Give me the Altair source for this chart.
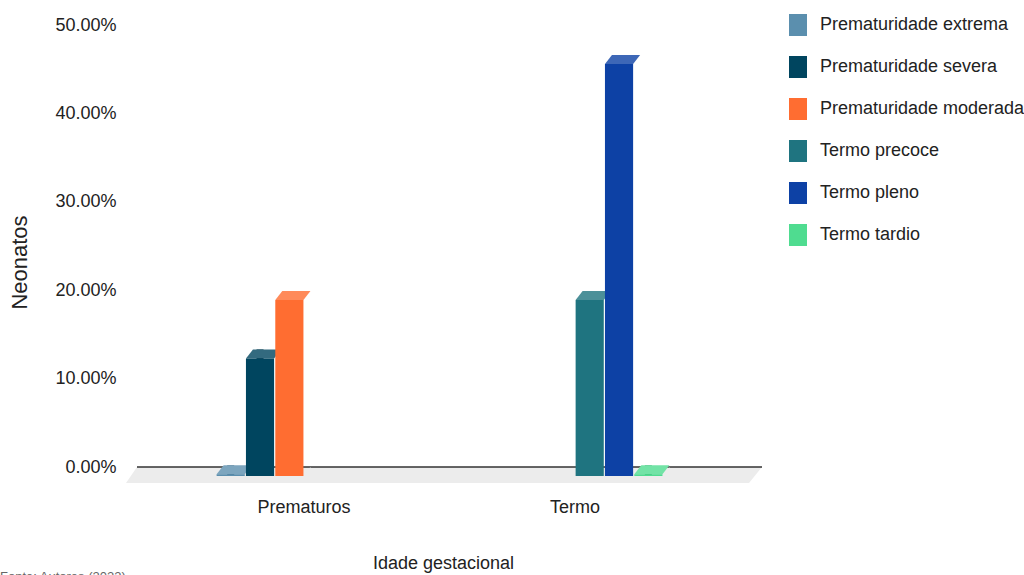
import altair as alt
import pandas as pd

# Share of newborns by gestational-age class
grupos = ["Prematuros", "Prematuros", "Prematuros", "Termo", "Termo", "Termo"]
series = [
    "Prematuridade extrema",
    "Prematuridade severa",
    "Prematuridade moderada",
    "Termo precoce",
    "Termo pleno",
    "Termo tardio",
]
valores = [0.002, 0.133, 0.199, 0.199, 0.466, 0.002]
categorias = ["Prematuros", "Termo"]
ticks_y = [0.0, 0.1, 0.2, 0.3, 0.4, 0.5]

cores = ["#5b8fae", "#00455f", "#ff6d31", "#1f7480", "#0d41a5", "#4fdc90"]

FONT = "Liberation Sans, Arial, sans-serif"
FS = 18
FLOOR = "#ececec"


def mix(hex_color, other, t):
    c = [int(hex_color[i:i + 2], 16) for i in (1, 3, 5)]
    o = [int(other[i:i + 2], 16) for i in (1, 3, 5)]
    return "#" + "".join(f"{round(a + (b - a) * t):02x}" for a, b in zip(c, o))


topo = [mix(c, "#ffffff", 0.2) for c in cores]
lado = [mix(c, "#000000", 0.3) for c in cores]

df = pd.DataFrame({
    "grupo": grupos,
    "serie": series,
    "valor": valores,
    "topo": topo,
    "lado": lado,
})

W, H = 625, 442
DX, DY = 7, 9          # depth of the 3-D extrusion in pixels
HALF = 14.08           # half of a bar's front width

xscale = alt.Scale(domain=categorias, paddingInner=0.3506, paddingOuter=0.3284, align=0.444)
offscale = alt.Scale(domain=series, paddingInner=0.04, paddingOuter=0.02)
yscale = alt.Scale(domain=[0, 0.5], nice=False, zero=True)

base = alt.Chart(df).encode(
    x=alt.X(
        "grupo:N",
        scale=xscale,
        sort=categorias,
        title="Idade gestacional",
        axis=alt.Axis(
            labelAngle=0, domain=False, ticks=False, grid=False,
            labelFont=FONT, labelFontSize=FS, labelColor="#222222",
            labelPadding=31, titleFont=FONT, titleFontSize=FS,
            titleFontWeight="normal", titleColor="#222222",
            titleX=306, titleY=96, titleBaseline="middle", titleAlign="center",
        ),
    ),
    xOffset=alt.XOffset("serie:N", scale=offscale, sort=series),
    y=alt.Y(
        "valor:Q",
        scale=yscale,
        title="Neonatos",
        axis=alt.Axis(
            values=ticks_y, format=".2%", domain=False, ticks=False,
            labelFont=FONT, labelFontSize=FS, labelColor="#222222",
            labelPadding=21, gridColor="#d6d6d6", gridWidth=1.3,
            titleFont=FONT, titleFontSize=22, titleFontWeight="normal",
            titleColor="#222222", titleAngle=-90, titleX=-118, titleY=237,
            titleAlign="center", titleBaseline="middle",
        ),
    ),
)

# floor under the bars
floor = alt.Chart(pd.DataFrame({"k": [0]})).mark_point(
    shape=f"M0,0 L{W},0 L{W - 13},16 L-11,16 Z",
    size=4, filled=True, fill=FLOOR, opacity=1, strokeWidth=0,
).encode(x=alt.value(0), y=alt.datum(0))

baseline = alt.Chart(pd.DataFrame({"k": [0]})).mark_rule(
    color="#333333", strokeWidth=1.6
).encode(y=alt.datum(0), x=alt.value(0), x2=alt.value(W))

sides = base.mark_bar(width=DX, xOffset=HALF + DX / 2, y2Offset=DY).encode(
    y2=alt.datum(0),
    fill=alt.Fill("lado:N", scale=None),
)

covers = base.mark_point(
    shape=f"M{HALF + DX},0 L{HALF + DX},{DY} L{HALF},{DY} Z",
    size=4, filled=True, fill=FLOOR, opacity=1, strokeWidth=0,
).encode(y=alt.datum(0))

tops = base.mark_point(
    shape=f"M{-HALF},{DY} L{HALF},{DY} L{HALF + DX},0 L{-HALF + DX},0 Z",
    size=4, filled=True, opacity=1, strokeWidth=0,
).encode(fill=alt.Fill("topo:N", scale=None))

fronts = base.mark_bar(yOffset=DY, y2Offset=DY).encode(
    y2=alt.datum(0),
    color=alt.Color(
        "serie:N",
        scale=alt.Scale(domain=series, range=cores),
        sort=series,
        legend=alt.Legend(
            title=None, orient="none", legendX=650, legendY=-11,
            symbolType="M-0.818,-1 H0.818 V1 H-0.818 Z", symbolSize=484,
            symbolStrokeWidth=0, symbolOpacity=1,
            labelFont=FONT, labelFontSize=FS, labelColor="#222222",
            labelOffset=11, rowPadding=20, padding=0, labelLimit=300,
        ),
    ),
)

source = alt.Chart(pd.DataFrame({"t": ["Fonte: Autores (2023)"]})).mark_text(
    align="left", baseline="top", font=FONT, fontSize=13, color="#666666"
).encode(text="t:N", x=alt.value(-137), y=alt.value(546))

chart = alt.layer(floor, baseline, sides, covers, tops, fronts, source).properties(
    width=W,
    height=H,
    autosize=alt.AutoSizeParams(type="none"),
    padding={"left": 137, "top": 25, "right": 262, "bottom": 108},
    background="#ffffff",
).configure_view(stroke=None)

chart.save("out.html", embed_options={"renderer": "svg", "actions": False})
